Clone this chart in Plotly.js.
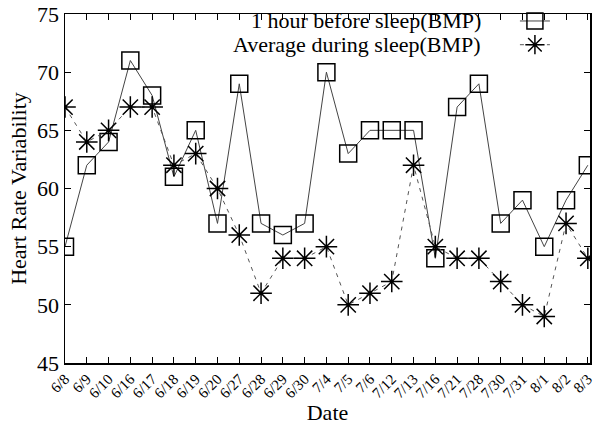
<!DOCTYPE html>
<html>
<head>
<meta charset="utf-8">
<script src="https://cdn.plot.ly/plotly-3.0.1.min.js"></script>
<style>html,body{margin:0;padding:0;background:#fff;}#chart{width:595px;height:425px;}</style>
</head>
<body>
<div id="chart"></div>
<script>
const dates = ["6/8","6/9","6/10","6/16","6/17","6/18","6/19","6/20","6/27","6/28","6/29","6/30","7/4","7/5","7/6","7/12","7/13","7/16","7/21","7/28","7/30","7/31","8/1","8/2","8/3"];
const beforeSleep = [55,62,64,71,68,61,65,57,69,57,56,57,70,63,65,65,65,54,67,69,57,59,55,59,62];
const duringSleep = [67,64,65,67,67,62,63,60,56,51,54,54,55,50,51,52,62,55,54,54,52,50,49,57,54];
const seriesNames = ["1 hour before sleep(BMP)","Average during sleep(BMP)"];
const yTicks = [45,50,55,60,65,70,75];

const serif = "Liberation Serif, Times New Roman, serif";
const hiddenLegendFont = {family: serif, size: 1, color: "rgba(0,0,0,0)"};

const traces = [
  {x: dates, y: beforeSleep, name: seriesNames[0], type: "scatter", mode: "lines+markers",
   legend: "legend",
   line: {color: "#444", width: 1},
   marker: {symbol: "square-open", size: 17, color: "#000", line: {width: 1.5, color: "#000"}}},
  {x: dates, y: duringSleep, name: seriesNames[1], type: "scatter", mode: "lines+markers",
   legend: "legend2",
   line: {color: "#555", width: 1, dash: "4px,5px"},
   marker: {symbol: "asterisk-open", size: 18, color: "#000", line: {width: 1.5, color: "#000"}}}
];

const legendBase = {xref: "paper", yref: "paper", xanchor: "left", yanchor: "middle",
  bgcolor: "rgba(0,0,0,0)", borderwidth: 0, font: hiddenLegendFont};

const layout = {
  width: 595, height: 425,
  margin: {l: 65, r: 5, t: 14, b: 62},
  paper_bgcolor: "#fff", plot_bgcolor: "#fff",
  font: {family: serif, color: "#000"},
  showlegend: true,
  legend: Object.assign({}, legendBase, {x: 0.857, y: 0.98}),
  legend2: Object.assign({}, legendBase, {x: 0.857, y: 0.912}),
  xaxis: {
    type: "category", range: [0, 24.1],
    tickangle: -45, tickfont: {family: serif, size: 15, color: "#000"},
    ticks: "inside", ticklen: 6, tickcolor: "#000",
    showline: true, linecolor: "#000", linewidth: 1.5, mirror: "allticks",
    showgrid: false, zeroline: false,
    title: {text: "Date", font: {family: serif, size: 22, color: "#000"}, standoff: 0}
  },
  yaxis: {
    range: [45, 75], tickvals: yTicks,
    tickfont: {family: serif, size: 22, color: "#000"},
    ticks: "inside", ticklen: 6, tickcolor: "#000",
    showline: true, linecolor: "#000", linewidth: 1.5, mirror: "allticks",
    showgrid: false, zeroline: false,
    title: {text: "Heart Rate Variability", font: {family: serif, size: 22, color: "#000"}, standoff: 4}
  },
  annotations: [
    {xref: "paper", yref: "paper", x: 0.797, y: 0.98, xanchor: "right", yanchor: "middle",
     text: seriesNames[0], showarrow: false, font: {family: serif, size: 22, color: "#000"}},
    {xref: "paper", yref: "paper", x: 0.797, y: 0.912, xanchor: "right", yanchor: "middle",
     text: seriesNames[1], showarrow: false, font: {family: serif, size: 22, color: "#000"}}
  ]
};

Plotly.newPlot("chart", traces, layout, {displayModeBar: false, staticPlot: true});
</script>
</body>
</html>
